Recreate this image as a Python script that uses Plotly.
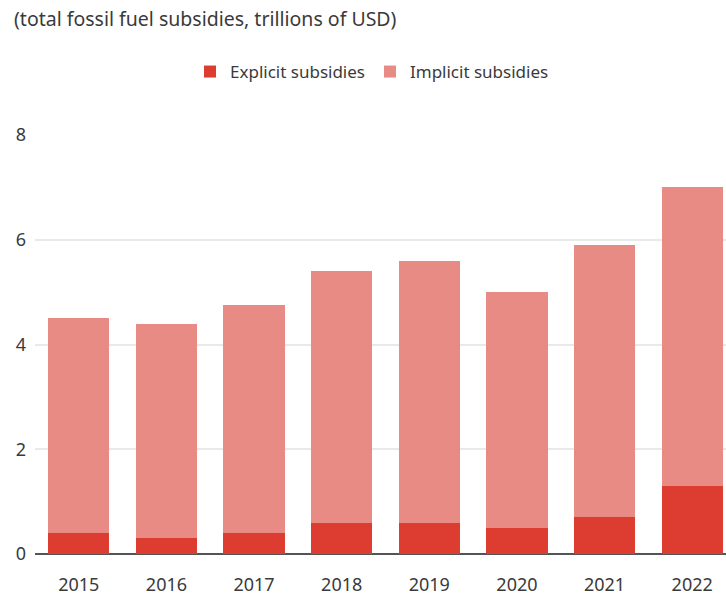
import plotly.graph_objects as go

# Fossil fuel subsidies by year, trillions of USD
years = ["2015", "2016", "2017", "2018", "2019", "2020", "2021", "2022"]
explicit = [0.4, 0.3, 0.4, 0.6, 0.6, 0.5, 0.7, 1.3]
implicit = [4.1, 4.1, 4.35, 4.8, 5.0, 4.5, 5.2, 5.7]

y_ticks = [0, 2, 4, 6, 8]

EXPLICIT_COLOR = "#dd3c30"
IMPLICIT_COLOR = "#e98b85"
TEXT_COLOR = "#3a3a3a"
FONT = "'Noto Sans', Lato, sans-serif"

fig = go.Figure()
fig.add_trace(go.Bar(
    x=years, y=explicit, name="Explicit subsidies",
    marker=dict(color=EXPLICIT_COLOR, line=dict(width=0)),
))
fig.add_trace(go.Bar(
    x=years, y=implicit, name="Implicit subsidies",
    marker=dict(color=IMPLICIT_COLOR, line=dict(width=0)),
))

W, H = 726, 600
fig.update_layout(
    width=W, height=H,
    barmode="stack",
    bargap=0.30,
    plot_bgcolor="white",
    paper_bgcolor="white",
    font=dict(family=FONT, size=17, color=TEXT_COLOR),
    margin=dict(l=35, r=0, t=135, b=46),
    showlegend=True,
    legend=dict(
        orientation="h",
        xref="container", yref="container",
        x=372 / W, y=1 - 72 / H,
        xanchor="center", yanchor="middle",
        font=dict(size=17, color=TEXT_COLOR),
        traceorder="normal",
        itemclick=False, itemdoubleclick=False,
        bgcolor="rgba(0,0,0,0)",
    ),
    annotations=[dict(
        text="(total fossil fuel subsidies, trillions of USD)",
        xref="paper", yref="paper",
        x=(12 - 35) / (W - 35), y=1 + (135 - 18) / (H - 135 - 46),
        xanchor="left", yanchor="middle",
        showarrow=False,
        font=dict(size=19.5, color=TEXT_COLOR),
    )],
)

fig.update_xaxes(
    type="category",
    range=[-0.5, 7.5 - 10 / 87.7],
    showgrid=False,
    showline=False,
    ticks="",
    tickfont=dict(size=18, color=TEXT_COLOR),
    ticklabelstandoff=18,
)
fig.update_yaxes(
    range=[0, 8],
    tickvals=y_ticks,
    ticktext=[str(v) for v in y_ticks],
    showgrid=True,
    gridcolor="#e9e9e9",
    gridwidth=1.5,
    zeroline=True,
    zerolinecolor="#555555",
    zerolinewidth=2,
    showline=False,
    ticks="",
    tickfont=dict(size=18, color=TEXT_COLOR),
    ticklabelstandoff=8,
)

fig.write_html("out.html")
